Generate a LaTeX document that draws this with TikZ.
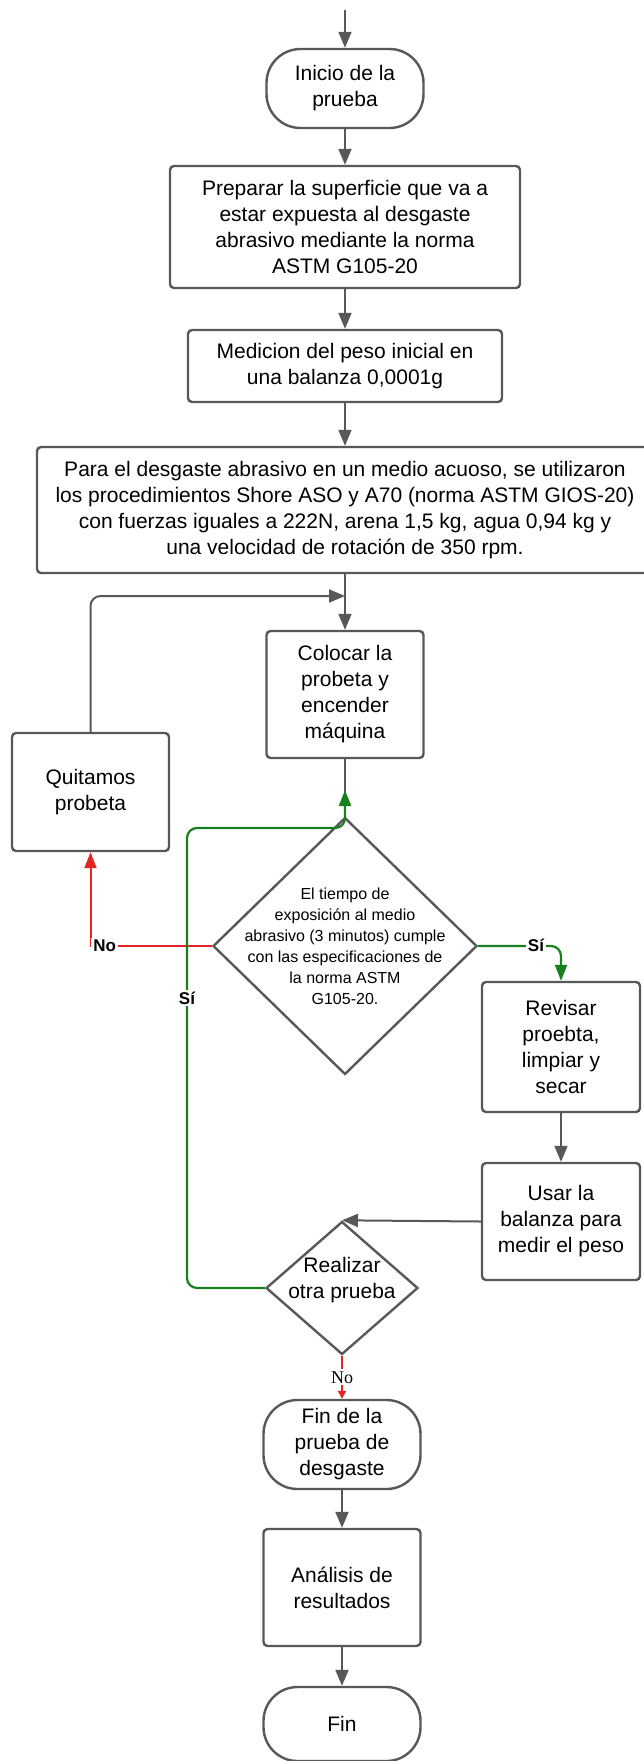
\documentclass[tikz,border=0pt]{standalone}
\usepackage{fontspec}
\setmainfont{Liberation Sans}
\newfontfamily\serifno{Liberation Serif}
\usetikzlibrary{shapes.geometric,arrows.meta}
\definecolor{linegray}{RGB}{88,88,88}
\definecolor{sigreen}{RGB}{22,128,30}
\definecolor{nored}{RGB}{226,36,36}

\begin{document}
\begin{tikzpicture}[x=0.5pt,y=-0.5pt,
	txt/.style={align=center, font=\fontsize{10.5}{13}\selectfont},
	box/.style={txt, draw=linegray, line width=1.2pt, rounded corners=2pt, inner sep=0pt},
	term/.style={box, rounded corners=17pt},
	dec/.style={diamond, draw=linegray, line width=1.2pt, inner sep=0pt},
	conn/.style={draw=linegray, line width=1pt, -{Triangle[width=6.5pt,length=8pt]}},
	si/.style={draw=sigreen, line width=1.1pt, rounded corners=5pt, -{Triangle[width=6pt,length=8pt]}},
	no/.style={draw=nored, line width=1pt, -{Triangle[width=6pt,length=8pt]}},
	lbl/.style={fill=white, inner sep=1pt, font=\fontsize{8.5}{10}\selectfont\bfseries}
]
	%\draw[help lines] (0,0) grid (643,1761);
	\useasboundingbox (0,0) rectangle (643,1761);

	\node[term, minimum width=78.5pt, minimum height=39.5pt] (inicio) at (345,88.5) {Inicio de la\\prueba};
	\node[box, minimum width=175pt, minimum height=61pt] (prep) at (345,227) {Preparar la superficie que va a\\estar expuesta al desgaste\\abrasivo mediante la norma\\ASTM G105-20};
	\node[box, minimum width=157pt, minimum height=36pt] (med) at (345,366) {Medicion del peso inicial en\\una balanza 0,0001g};
	\node[box, minimum width=308pt, minimum height=63pt] (para) at (345,510) {Para el desgaste abrasivo en un medio acuoso, se utilizaron\\los procedimientos Shore ASO y A70 (norma ASTM GIOS-20)\\con fuerzas iguales a 222N, arena 1,5 kg, agua 0,94 kg y\\una velocidad de rotación de 350 rpm.};
	\node[box, minimum width=78.5pt, minimum height=63.5pt] (colocar) at (345,694.5) {Colocar la\\probeta y\\encender\\máquina};
	\node[box, minimum width=78.5pt, minimum height=59pt] (quit) at (90.5,792) {Quitamos\\probeta};
	\node[dec, minimum width=132pt, minimum height=128.5pt] (dec1) at (345,946) {};
	\node[align=center, font=\fontsize{8}{10.5}\selectfont] (dec1txt) at (dec1) {El tiempo de\\exposición al medio\\abrasivo (3 minutos) cumple\\con las especificaciones de\\la norma ASTM\\G105-20.};
	\node[box, minimum width=79pt, minimum height=65pt] (revisar) at (561,1047) {Revisar\\proebta,\\limpiar y\\secar};
	\node[box, minimum width=79pt, minimum height=58.5pt] (usar) at (561,1221.5) {Usar la\\balanza para\\medir el peso};
	\node[dec, minimum width=76pt, minimum height=66.5pt] (dec2) at (342,1288) {};
	\node[txt] (dec2txt) at (342,1280) {Realizar\\otra prueba};
	\node[term, minimum width=78.5pt, minimum height=44.5pt] (fin1) at (342,1444.5) {Fin de la\\prueba de\\desgaste};
	\node[box, minimum width=78.5pt, minimum height=58.5pt] (anal) at (342,1587.5) {Análisis de\\resultados};
	\node[term, minimum width=78.5pt, minimum height=37pt] (fin) at (342,1724) {Fin};

	\coordinate (entrada) at (345,10);
	\coordinate (retorno) at (345,596);
	\coordinate (vuelta) at (187,828);
	\coordinate (llegada) at (345,790);

	\draw[conn] (entrada) -- (inicio.north);
	\draw[conn] (inicio.south) -- (prep.north);
	\draw[conn] (prep.south) -- (med.north);
	\draw[conn] (med.south) -- (para.north);
	\draw[conn] (para.south) -- (colocar.north);
	\draw[conn, rounded corners=5pt] (quit.north) |- (retorno);
	\draw[draw=linegray, line width=1pt] (colocar.south) -- (dec1.north);
	\draw[no] (dec1.west) -| (quit.south);
	\node[lbl, anchor=west] (no1) at (91,946) {No};
	\draw[si] (dec2.west) -| (vuelta) -| (llegada);
	\node[lbl] (si1) at (187,998) {Sí};
	\draw[si] (dec1.east) -| (revisar.north);
	\node[lbl] (si2) at (536,945) {Sí};
	\draw[conn] (revisar.south) -- (usar.north);
	\draw[conn] (usar.west) -- (dec2.north);
	\draw[draw=nored, line width=1pt, -{Triangle[width=4pt,length=4pt]}] (dec2.south) -- node[fill=white, inner sep=1pt, font=\serifno\fontsize{9}{10}\selectfont] (no2) {No} (fin1.north);
	\draw[conn] (fin1.south) -- (anal.north);
	\draw[conn] (anal.south) -- (fin.north);
\end{tikzpicture}
\end{document}
